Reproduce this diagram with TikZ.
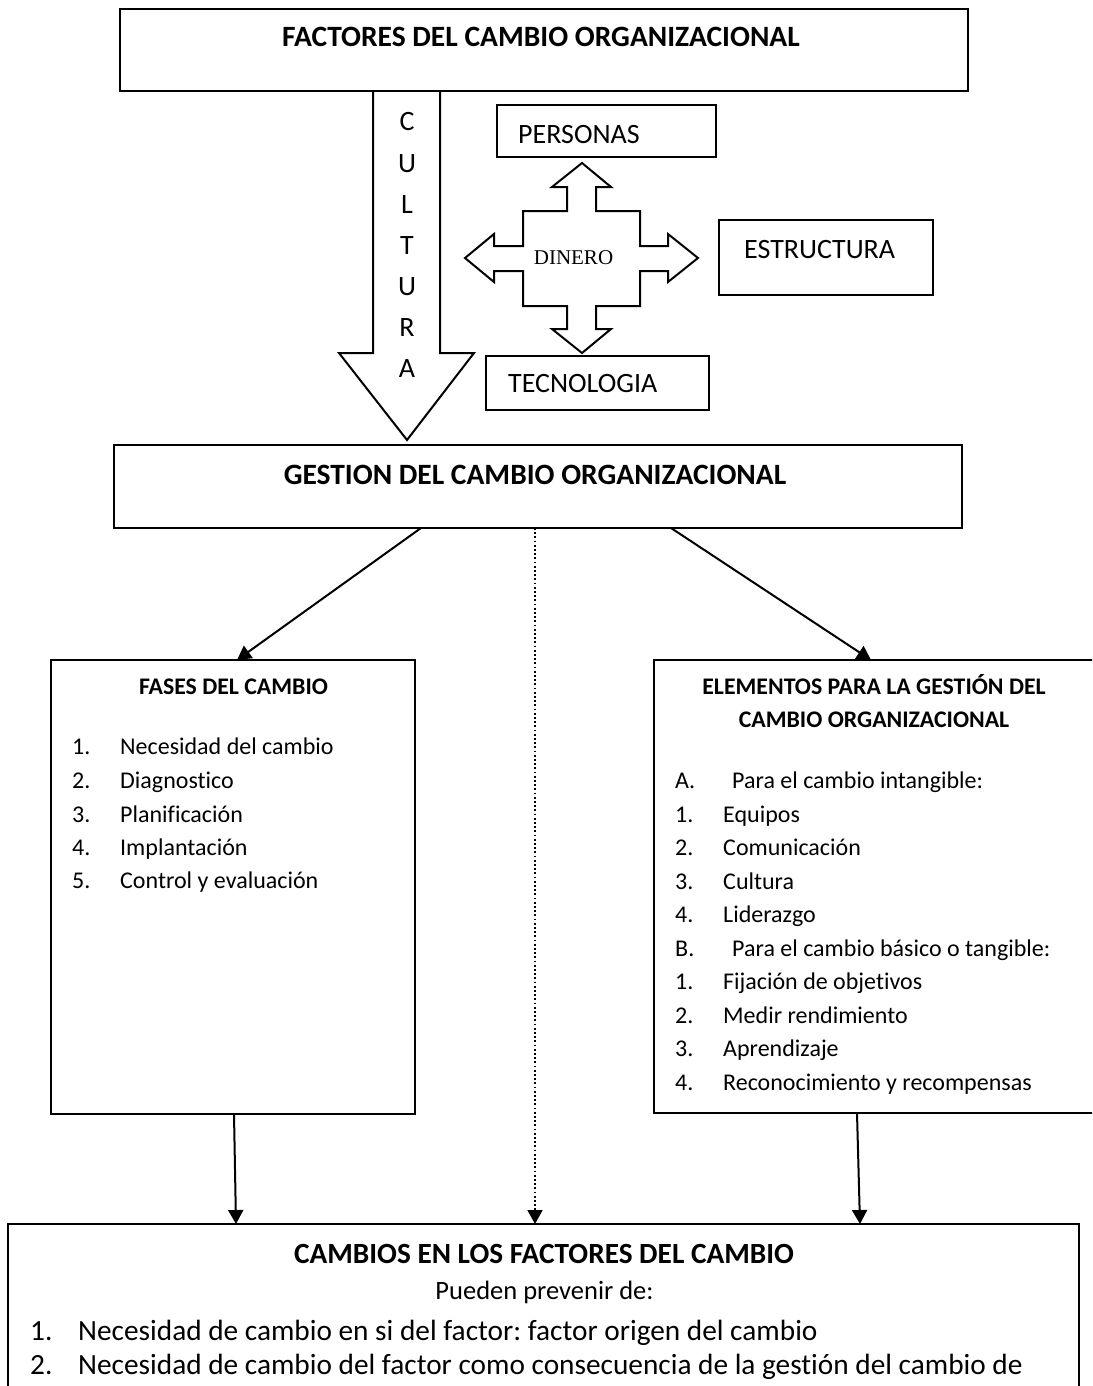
\documentclass[tikz,border=0pt]{standalone}
\usepackage{fontspec}
\setmainfont{Carlito}[Ligatures={NoCommon}]
\newfontfamily\tnr{Liberation Serif}
\usetikzlibrary{arrows.meta}
\frenchspacing
\begin{document}
\begin{tikzpicture}[x=1pt,y=-1pt,
  box/.style={draw, line width=2pt, inner sep=0pt, outer sep=0pt, anchor=north west},
  lt/.style={inner sep=0pt, anchor=base west},
  ct/.style={inner sep=0pt, anchor=base},
  bigb/.style={font=\fontsize{29.5}{34}\selectfont\bfseries},
  midb/.style={font=\fontsize{23.8}{28}\selectfont\bfseries},
  item/.style={lt, font=\fontsize{24}{28}\selectfont},
  bitem/.style={lt, font=\fontsize{29.3}{34}\selectfont},
  fac/.style={lt, font=\fontsize{28}{32}\selectfont},
  arr/.style={line width=2pt, -{Triangle[length=14pt,width=15pt]}},
  outl/.style={draw, line width=2pt, line join=miter}
]
\clip (0,0) rectangle (1092,1386);
\fill[white] (0,0) rectangle (1092,1386);

% ---------- top box ----------
\node[box, minimum width=848pt, minimum height=82pt] (top) at (120,9) {};
\node[ct, bigb] (toptxt) at (541,47) {FACTORES DEL CAMBIO ORGANIZACIONAL};

% ---------- cultura arrow ----------
\draw[outl] (373,91) -- (373,353) -- (339,353) -- (407,440) -- (474,353) -- (440,353) -- (440,91);
\foreach \l/\y [count=\i] in {C/131,U/172,L/213,T/254,U/295,R/336,A/377}{
  \node[ct, font=\fontsize{28}{32}\selectfont] (cul\i) at (407,\y) {\l};
}

% ---------- factor boxes ----------
\node[box, minimum width=219pt, minimum height=52pt] (personas) at (497,105) {};
\node[fac] (personastxt) at (518,143) {PERSONAS};
\node[box, minimum width=214pt, minimum height=75pt] (estructura) at (719,220) {};
\node[fac] (estructuratxt) at (744,258) {ESTRUCTURA};
\node[box, minimum width=223pt, minimum height=54pt] (tecnologia) at (486,356) {};
\node[fac] (tecnologiatxt) at (508,392) {TECNOLOGIA};

% ---------- four-way arrow ----------
\draw[outl, fill=white] (582,163) -- (611,187) -- (596,187) -- (596,211) -- (640,211) -- (640,246)
  -- (668,246) -- (668,234) -- (698,258) -- (668,282) -- (668,271) -- (640,271)
  -- (640,306) -- (596,306) -- (596,329) -- (611,329) -- (582,353) -- (552,329)
  -- (567,329) -- (567,306) -- (523,306) -- (523,271) -- (494,271) -- (494,282)
  -- (465,258) -- (494,234) -- (494,246) -- (523,246) -- (523,211) -- (567,211)
  -- (567,187) -- (552,187) -- cycle;
\node[ct, font=\fontsize{21}{24}\selectfont\tnr] (dinero) at (573.5,264) {DINERO};

% ---------- gestion box ----------
\node[box, minimum width=848pt, minimum height=83pt] (gestion) at (114,445) {};
\node[ct, bigb] (gestiontxt) at (535,484) {GESTION DEL CAMBIO ORGANIZACIONAL};

% ---------- fases box ----------
\node[box, minimum width=364pt, minimum height=454pt] (fases) at (51,660) {};
\node[ct, midb] (fasestit) at (233.5,694) {FASES DEL CAMBIO};
\foreach \n/\t/\y in {1./Necesidad del cambio/754, 2./Diagnostico/788, 3./Planificación/822, 4./Implantación/855, 5./Control y evaluación/888}{
  \node[item] at (72,\y) {\n};
  \node[item] at (120,\y) {\t};
}

% ---------- elementos box ----------
\node[box, minimum width=442pt, minimum height=453pt] (elementos) at (654,660) {};
\node[ct, midb] (eltit1) at (874,694) {ELEMENTOS PARA LA GESTIÓN DEL};
\node[ct, midb] (eltit2) at (874,727) {CAMBIO ORGANIZACIONAL};
\foreach \n/\t/\x/\y in {A./Para el cambio intangible:/732/788, 1./Equipos/723/822, 2./Comunicación/723/855, 3./Cultura/723/889, 4./Liderazgo/723/922, B./Para el cambio básico o tangible:/732/956, 1./Fijación de objetivos/723/989, 2./Medir rendimiento/723/1023, 3./Aprendizaje/723/1056, 4./Reconocimiento y recompensas/723/1090}{
  \node[item] at (675,\y) {\n};
  \node[item] at (\x,\y) {\t};
}

% ---------- bottom box ----------
\node[box, minimum width=1071pt, minimum height=200pt] (cambios) at (8,1224) {};
\node[ct, font=\fontsize{29.3}{34}\selectfont\bfseries] (camtit) at (544,1263) {CAMBIOS EN LOS FACTORES DEL CAMBIO};
\node[ct, font=\fontsize{26.5}{30}\selectfont] (pueden) at (544.5,1299) {Pueden prevenir de:};
\node[bitem] at (30,1340) {1.};
\node[bitem] at (78,1340) {Necesidad de cambio en si del factor: factor origen del cambio};
\node[bitem] at (30,1374) {2.};
\node[bitem] at (78,1374) {Necesidad de cambio del factor como consecuencia de la gestión del cambio de};

% ---------- connectors ----------
\coordinate (gL) at (421,528);
\coordinate (gM) at (535,528);
\coordinate (gR) at (671,528);
\coordinate (fT) at (237,660);
\coordinate (eT) at (871,660);
\coordinate (fB) at (234,1114);
\coordinate (eB) at (857,1113);
\coordinate (cL) at (236,1224);
\coordinate (cM) at (535,1224);
\coordinate (cR) at (860,1224);
\draw[arr] (gL) -- (fT);
\draw[arr] (gR) -- (eT);
\draw[arr] (fB) -- (cL);
\draw[arr] (eB) -- (cR);
\draw[line width=1.8pt, dash pattern=on 1.8pt off 2.4pt, -{Triangle[length=14pt,width=15pt]}] (gM) -- (cM);
\end{tikzpicture}
\end{document}
